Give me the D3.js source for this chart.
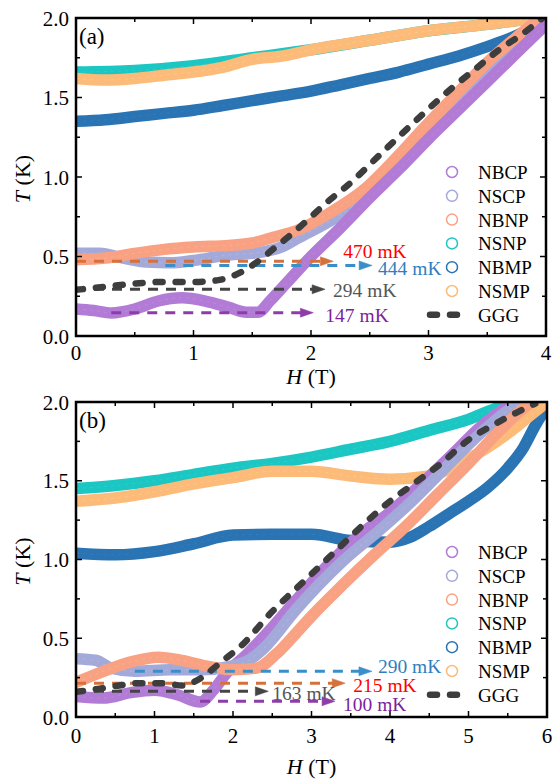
<!DOCTYPE html>
<html>
<head>
<meta charset="utf-8">
<script src="https://cdn.jsdelivr.net/npm/d3@7"></script>
<style>
  body { margin: 0; background: #fff; }
  svg text { font-family: "Liberation Serif", "Times New Roman", serif; }
</style>
</head>
<body>
<svg id="chart" width="554" height="780"></svg>
<script>
// series names, legend order
const names = ['NBCP', 'NSCP', 'NBNP', 'NSNP', 'NBMP', 'NSMP'];
const colors = {
  NBCP: '#b27cd6',
  NSCP: '#a3a9d8',
  NBNP: '#f9a283',
  NSNP: '#1cc6c2',
  NBMP: '#2b74b4',
  NSMP: '#fdbb7a',
  GGG: '#3d3d3d'
};

// panel (a): [H (T), T (K)]
const NBCP_A = [[0,0.17],[0.15,0.16],[0.3,0.145],[0.5,0.17],[0.7,0.22],[0.9,0.24],[1.1,0.22],[1.3,0.18],[1.45,0.15],[1.55,0.15],[1.65,0.22],[1.8,0.34],[2.0,0.5],[2.25,0.68],[2.5,0.87],[2.75,1.05],[3.0,1.24],[3.25,1.42],[3.5,1.6],[3.75,1.78],[4.0,1.96]];
const NSCP_A = [[0,0.52],[0.2,0.52],[0.4,0.49],[0.6,0.465],[0.8,0.46],[1.0,0.475],[1.3,0.51],[1.5,0.52],[1.75,0.56],[1.9,0.62],[2.2,0.74],[2.5,0.9],[2.75,1.1],[3.0,1.28],[3.25,1.47],[3.5,1.65],[3.75,1.82],[4.0,1.97]];
const NBNP_A = [[0,0.48],[0.25,0.49],[0.5,0.52],[0.75,0.545],[1.0,0.56],[1.3,0.57],[1.5,0.585],[1.65,0.615],[1.9,0.67],[2.15,0.77],[2.45,0.92],[2.75,1.14],[2.95,1.3],[3.25,1.53],[3.5,1.72],[3.75,1.88],[3.95,2.0]];
const NSNP_A = [[0,1.66],[0.5,1.67],[1.0,1.7],[1.5,1.75],[2.0,1.8],[2.5,1.86],[3.0,1.92],[3.5,1.96],[3.9,2.0]];
const NBMP_A = [[0,1.35],[0.25,1.36],[0.5,1.38],[0.75,1.4],[1.0,1.42],[1.25,1.45],[1.5,1.48],[1.75,1.51],[2.0,1.54],[2.25,1.58],[2.5,1.62],[2.75,1.66],[3.0,1.71],[3.25,1.76],[3.5,1.82],[3.75,1.89],[4.0,1.99]];
const NSMP_A = [[0,1.62],[0.25,1.61],[0.5,1.62],[0.75,1.64],[1.0,1.66],[1.25,1.69],[1.5,1.74],[1.75,1.76],[2.0,1.8],[2.5,1.86],[3.0,1.92],[3.5,1.96],[4.0,2.01]];
const GGG_A = [[0,0.29],[0.25,0.31],[0.5,0.33],[0.75,0.34],[1.0,0.34],[1.2,0.35],[1.4,0.4],[1.55,0.47],[1.7,0.56],[1.85,0.65],[2.0,0.75],[2.15,0.85],[2.3,0.94],[2.6,1.15],[2.9,1.36],[3.2,1.56],[3.4,1.68],[3.6,1.8],[3.8,1.9],[3.97,2.0]];

// panel (b)
const NBCP_B = [[0,0.13],[0.35,0.12],[0.7,0.155],[1.0,0.17],[1.3,0.14],[1.58,0.095],[1.75,0.17],[1.92,0.28],[2.18,0.4],[2.43,0.53],[2.8,0.74],[3.2,0.96],[3.6,1.15],[4.0,1.3],[4.4,1.48],[4.8,1.67],[5.15,1.84],[5.5,1.97],[5.75,2.02]];
const NSCP_B = [[0,0.37],[0.25,0.36],[0.45,0.31],[0.75,0.29],[1.2,0.3],[1.6,0.3],[1.95,0.32],[2.2,0.36],[2.4,0.44],[2.8,0.68],[3.4,0.99],[3.9,1.2],[4.3,1.38],[4.7,1.58],[5.15,1.8],[5.55,1.96],[5.85,2.02]];
const NBNP_B = [[0,0.22],[0.35,0.29],[0.7,0.35],[1.05,0.38],[1.35,0.36],[1.7,0.32],[2.0,0.3],[2.3,0.31],[2.55,0.4],[2.8,0.53],[3.0,0.64],[3.4,0.84],[3.8,1.03],[4.2,1.21],[4.6,1.41],[5.0,1.61],[5.4,1.82],[5.78,1.99],[6.0,2.05]];
const NSNP_B = [[0,1.45],[0.5,1.47],[1.0,1.5],[1.5,1.54],[2.0,1.58],[2.5,1.61],[3.0,1.65],[3.5,1.7],[4.0,1.75],[4.5,1.82],[5.0,1.89],[5.3,1.95],[5.6,2.0]];
const NBMP_B = [[0,1.04],[0.5,1.03],[1.0,1.05],[1.5,1.1],[2.0,1.155],[2.5,1.16],[3.0,1.16],[3.5,1.12],[4.0,1.11],[4.25,1.14],[4.5,1.21],[4.75,1.29],[5.0,1.37],[5.25,1.46],[5.5,1.58],[5.7,1.71],[5.85,1.85],[6.0,1.97]];
const NSMP_B = [[0,1.37],[0.5,1.39],[1.0,1.43],[1.5,1.48],[2.0,1.52],[2.5,1.56],[3.0,1.56],[3.5,1.53],[4.0,1.51],[4.5,1.53],[5.0,1.64],[5.5,1.8],[5.8,1.92],[6.0,2.0]];
const GGG_B = [[0,0.16],[0.3,0.18],[0.55,0.2],[0.8,0.215],[1.1,0.215],[1.35,0.2],[1.6,0.25],[1.85,0.35],[2.1,0.45],[2.5,0.67],[2.9,0.86],[3.3,1.05],[3.7,1.24],[4.0,1.37],[4.3,1.48],[4.65,1.61],[5.0,1.76],[5.3,1.85],[5.6,1.93],[5.85,1.99]];

// arrows: [label, from H, to H, T, arrow colour, text colour]
const ARROWS_A = [
  ['470 mK', 0, 2.19, 0.47, '#d6713c', '#ff0000'],
  ['444 mK', 0.76, 2.52, 0.444, '#3b8fc9', '#2f7fbf'],
  ['294 mK', 0, 2.12, 0.294, '#444444', '#555555'],
  ['147 mK', 0.3, 2.02, 0.147, '#8e3da8', '#7a1f9e']
];
const ARROWS_B = [
  ['290 mK', 0.75, 3.77, 0.29, '#3b8fc9', '#2f7fbf'],
  ['215 mK', 0, 3.43, 0.215, '#d6713c', '#ff0000'],
  ['163 mK', 0, 2.45, 0.163, '#444444', '#555555'],
  ['100 mK', 1.58, 3.3, 0.1, '#8e3da8', '#7a1f9e']
];
// text offset (dx px, baseline dy px relative to arrow)
const ARROW_TEXT_A = [[10, -3], [6, 10], [8, 8], [12, 9]];
const ARROW_TEXT_B = [[6, 2], [8, 9], [4, 9], [8, 10]];

const panels = [
  { id: 'a', label: '(a)', xMax: 4, x0: 76, x1: 546, y0: 336, y1: 18,
    series: [NBCP_A, NSCP_A, NBNP_A, NSNP_A, NBMP_A, NSMP_A], ggg: GGG_A,
    order: [3, 4, 5, 1, 2, 0],
    arrows: ARROWS_A, arrowText: ARROW_TEXT_A, legendTop: 172, tickDy: 24, labelDy: 48 },
  { id: 'b', label: '(b)', xMax: 6, x0: 76, x1: 547, y0: 717, y1: 402,
    series: [NBCP_B, NSCP_B, NBNP_B, NSNP_B, NBMP_B, NSMP_B], ggg: GGG_B,
    order: [3, 4, 5, 0, 1, 2],
    arrows: ARROWS_B, arrowText: ARROW_TEXT_B, legendTop: 552, tickDy: 26, labelDy: 57 }
];

const svg = d3.select('#chart');
const defs = svg.append('defs');

const drawPanel = p => {
  const x = d3.scaleLinear().domain([0, p.xMax]).range([p.x0, p.x1]);
  const y = d3.scaleLinear().domain([0, 2]).range([p.y0, p.y1]);
  const g = svg.append('g');

  defs.append('clipPath').attr('id', `clip-${ p.id }`)
    .append('rect')
    .attr('x', p.x0).attr('y', p.y1)
    .attr('width', p.x1 - p.x0).attr('height', p.y0 - p.y1);

  const line = d3.line()
    .x(d => x(d[0]))
    .y(d => y(d[1]))
    .curve(d3.curveMonotoneX);

  const plot = g.append('g').attr('clip-path', `url(#clip-${ p.id })`);

  // bands, back to front
  p.order.forEach(i => {
    const c = colors[names[i]];
    plot.append('path')
      .attr('d', line(p.series[i]))
      .attr('fill', 'none')
      .attr('stroke', c)
      .attr('stroke-width', 11.5)
      .attr('stroke-linejoin', 'round')
      .attr('stroke-linecap', 'round');
    plot.append('path')
      .attr('d', line(p.series[i]))
      .attr('fill', 'none')
      .attr('stroke', d3.color(c).brighter(0.3))
      .attr('stroke-width', 1)
      .attr('stroke-dasharray', '3,4')
      .attr('opacity', 0.6);
  });

  // arrows
  p.arrows.forEach((a, k) => {
    const [label, h0, h1, t, ac, tc] = a;
    const yy = y(t);
    const xe = x(h1);
    plot.append('line')
      .attr('x1', x(h0)).attr('x2', xe - 10)
      .attr('y1', yy).attr('y2', yy)
      .attr('stroke', ac)
      .attr('stroke-width', 3)
      .attr('stroke-dasharray', '10,8');
    g.append('path')
      .attr('d', `M${ xe - 13 },${ yy - 4.5 }L${ xe },${ yy }L${ xe - 13 },${ yy + 4.5 }Z`)
      .attr('fill', ac)
      .attr('stroke', ac)
      .attr('stroke-width', 0.5);
    g.append('text')
      .attr('x', xe + p.arrowText[k][0])
      .attr('y', yy + p.arrowText[k][1])
      .attr('fill', tc)
      .attr('font-size', 19.5)
      .text(label);
  });

  // GGG dashed on top
  plot.append('path')
    .attr('d', line(p.ggg))
    .attr('fill', 'none')
    .attr('stroke', colors.GGG)
    .attr('stroke-width', 6.5)
    .attr('stroke-linecap', 'round')
    .attr('stroke-dasharray', '7,13');

  // axes
  const fmtY = d3.format('.1f');
  const majorX = d3.range(0, p.xMax + 0.001, 1);
  const minorX = d3.range(0.5, p.xMax, 1);
  const majorY = [0, 0.5, 1, 1.5, 2];
  const minorY = [0.25, 0.75, 1.25, 1.75];

  const ax = g.append('g').attr('stroke', '#000').attr('stroke-width', 1.5);
  majorX.forEach(v => {
    ax.append('line').attr('x1', x(v)).attr('x2', x(v)).attr('y1', p.y0).attr('y2', p.y0 - 6);
    ax.append('line').attr('x1', x(v)).attr('x2', x(v)).attr('y1', p.y1).attr('y2', p.y1 + 6);
  });
  minorX.forEach(v => {
    ax.append('line').attr('x1', x(v)).attr('x2', x(v)).attr('y1', p.y0).attr('y2', p.y0 - 4);
    ax.append('line').attr('x1', x(v)).attr('x2', x(v)).attr('y1', p.y1).attr('y2', p.y1 + 4);
  });
  majorY.forEach(v => {
    ax.append('line').attr('x1', p.x0).attr('x2', p.x0 + 6).attr('y1', y(v)).attr('y2', y(v));
    ax.append('line').attr('x1', p.x1).attr('x2', p.x1 - 6).attr('y1', y(v)).attr('y2', y(v));
  });
  minorY.forEach(v => {
    ax.append('line').attr('x1', p.x0).attr('x2', p.x0 + 4).attr('y1', y(v)).attr('y2', y(v));
    ax.append('line').attr('x1', p.x1).attr('x2', p.x1 - 4).attr('y1', y(v)).attr('y2', y(v));
  });

  g.append('rect')
    .attr('x', p.x0).attr('y', p.y1)
    .attr('width', p.x1 - p.x0).attr('height', p.y0 - p.y1)
    .attr('fill', 'none')
    .attr('stroke', '#000')
    .attr('stroke-width', 2.5);

  g.selectAll('.xt').data(majorX).enter().append('text')
    .attr('x', d => x(d)).attr('y', p.y0 + p.tickDy)
    .attr('text-anchor', 'middle')
    .attr('font-size', 21)
    .text(d => d);

  g.selectAll('.yt').data(majorY).enter().append('text')
    .attr('x', p.x0 - 7).attr('y', d => y(d) + 7.5)
    .attr('text-anchor', 'end')
    .attr('font-size', 21)
    .text(d => fmtY(d));

  const xl = g.append('text')
    .attr('x', (p.x0 + p.x1) / 2).attr('y', p.y0 + p.labelDy)
    .attr('text-anchor', 'middle')
    .attr('font-size', 22);
  xl.append('tspan').attr('font-style', 'italic').text('H');
  xl.append('tspan').text(' (T)');

  const yl = g.append('text')
    .attr('transform', `translate(30,${ (p.y0 + p.y1) / 2 + 2 }) rotate(-90)`)
    .attr('text-anchor', 'middle')
    .attr('font-size', 22);
  yl.append('tspan').attr('font-style', 'italic').text('T');
  yl.append('tspan').text(' (K)');

  g.append('text')
    .attr('x', p.x0 + 3).attr('y', p.y1 + 26)
    .attr('font-size', 23)
    .text(p.label);

  // legend
  const lg = g.append('g');
  names.forEach((n, i) => {
    const ly = p.legendTop + i * 23.8;
    lg.append('circle')
      .attr('cx', 452).attr('cy', ly)
      .attr('r', 5.5)
      .attr('fill', 'none')
      .attr('stroke', colors[n])
      .attr('stroke-width', 1.5);
    lg.append('text')
      .attr('x', 478).attr('y', ly + 7)
      .attr('font-size', 19)
      .text(n);
  });
  const gy = p.legendTop + 6 * 23.8;
  lg.append('line')
    .attr('x1', 430).attr('x2', 466)
    .attr('y1', gy).attr('y2', gy)
    .attr('stroke', colors.GGG)
    .attr('stroke-width', 6.5)
    .attr('stroke-linecap', 'round')
    .attr('stroke-dasharray', '7,13');
  lg.append('text')
    .attr('x', 478).attr('y', gy + 7)
    .attr('font-size', 19)
    .text('GGG');
};

panels.forEach(drawPanel);
</script>
</body>
</html>
